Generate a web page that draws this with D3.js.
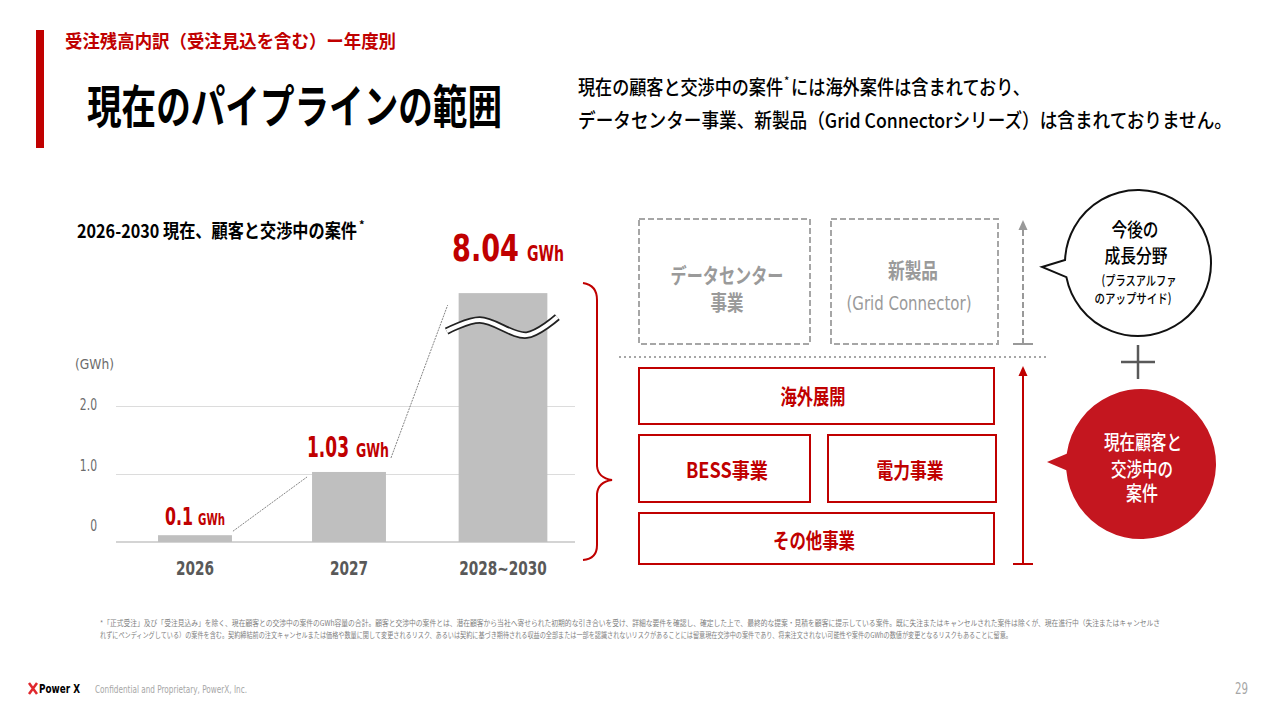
<!DOCTYPE html>
<html>
<head>
<meta charset="utf-8">
<script src="https://cdn.jsdelivr.net/npm/d3@7"></script>
<style>
  body { margin: 0; background: #fff; }
  svg { display: block; }
  text { font-family: "Noto Sans CJK JP", sans-serif; }
  .num, .num text { font-family: "Liberation Sans Narrow", "DejaVu Sans Condensed", Roboto, sans-serif; }
</style>
</head>
<body>
<svg width="1280" height="720"></svg>
<script>
  // chart data
  const categories = ["2026", "2027", "2028~2030"];
  const values = [0.1, 1.03, 8.04];
  const valueLabels = ["0.1", "1.03", "8.04"];
  const unit = "GWh";
  const yTicks = [0, 1, 2];
  const yTickLabels = ["0", "1.0", "2.0"];
  const breakAt = 3.66; // bars above this are drawn cut with a wave

  const RED = "#c00000",
    CRIMSON = "#c4161f",
    GREY = "#a6a6a6";

  var svg = d3.select("svg");

  // plain text helper, squeezed to the width seen on the slide
  function label(parent, str, x, y, o) {
    var t = parent
      .append("text")
      .attr("x", x)
      .attr("y", y)
      .attr("font-size", o.size)
      .attr("font-weight", o.weight || 400)
      .attr("fill", o.fill || "#000")
      .attr("text-anchor", o.anchor || "start")
      .text(str);
    if (o.cls) t.attr("class", o.cls);
    if (o.width) t.attr("textLength", o.width).attr("lengthAdjust", "spacingAndGlyphs");
    return t;
  }

  // ---- header ----
  svg.append("rect").attr("x", 36).attr("y", 30).attr("width", 8).attr("height", 118).attr("fill", RED);
  label(svg, "受注残高内訳（受注見込を含む）ー年度別", 65, 48, { size: 18, weight: 700, fill: RED, width: 331 });
  label(svg, "現在のパイプラインの範囲", 87, 123, { size: 46, weight: 700, width: 415 });

  label(svg, "現在の顧客と交渉中の案件", 578, 95, { size: 20, weight: 500, width: 205 });
  label(svg, "*", 784, 85, { size: 11, weight: 500 });
  label(svg, "には海外案件は含まれており、", 791, 95, { size: 20, weight: 500, width: 239 });
  label(svg, "データセンター事業、新製品（Grid Connectorシリーズ）は含まれておりません。", 578, 128, {
    size: 20, weight: 500, width: 654,
  });

  // ---- bar chart ----
  label(svg, "2026-2030 現在、顧客と交渉中の案件", 77, 238, { size: 19, weight: 700, width: 280 });
  label(svg, "*", 359, 229, { size: 11, weight: 700 });

  var x = d3.scaleBand().domain(categories).range([118, 580]).paddingInner(0.52).paddingOuter(0.26),
    y = d3.scaleLinear().domain([0, 2]).range([542, 406]),
    // the slide sets its tick labels a little above their gridlines
    yLab = d3.scaleLinear().domain([0, 2]).range([526, 405]);

  var grid = svg
    .append("g")
    .attr("transform", "translate(116,0)")
    .call(d3.axisLeft(y).tickValues(yTicks.slice(1)).tickSize(-459).tickFormat(""));
  grid.select(".domain").remove();
  grid.selectAll("line").attr("stroke", "#dcdcdc");

  svg.append("line")
    .attr("x1", 116).attr("x2", 575)
    .attr("y1", y(0)).attr("y2", y(0))
    .attr("stroke", "#d4d4d4").attr("stroke-width", 2);

  var yAxis = svg
    .append("g")
    .attr("class", "num")
    .attr("transform", "translate(100,0)")
    .call(d3.axisLeft(yLab).tickValues(yTicks).tickSize(0).tickFormat(function (d, i) { return yTickLabels[i]; }));
  yAxis.select(".domain").remove();
  yAxis.selectAll("text").attr("font-size", 15).attr("fill", "#6b6b6b")
    .attr("textLength", function () { return this.getComputedTextLength() * 0.8; })
    .attr("lengthAdjust", "spacingAndGlyphs");
  label(svg, "(GWh)", 75, 369, { size: 14, fill: "#6b6b6b", width: 39, cls: "num" });

  function barW(i) { return i == 2 ? x.bandwidth() * 1.2 : x.bandwidth(); }
  function barL(i) { return x(categories[i]) + x.bandwidth() / 2 - barW(i) / 2; }
  function barTop(i) { return y(Math.min(values[i], breakAt)); }

  svg.selectAll(".bar")
    .data(values)
    .enter()
    .append("rect")
    .attr("class", "bar")
    .attr("x", function (d, i) { return barL(i); })
    .attr("y", function (d, i) { return barTop(i); })
    .attr("width", function (d, i) { return barW(i); })
    .attr("height", function (d, i) { return y(0) - barTop(i); })
    .attr("fill", "#bfbfbf");

  var xAxis = svg
    .append("g")
    .attr("class", "num")
    .attr("transform", "translate(0," + y(0) + ")")
    .call(d3.axisBottom(x).tickSize(0).tickPadding(19));
  xAxis.select(".domain").remove();
  xAxis.selectAll("text").attr("font-size", 20).attr("font-weight", 700).attr("fill", "#595959")
    .attr("textLength", function () { return this.getComputedTextLength() * 0.76; })
    .attr("lengthAdjust", "spacingAndGlyphs");

  // value labels above bars: number then smaller unit
  var numSize = [25, 29, 38],
    unitSize = [15, 19, 21],
    numW = [28, 42, 67],
    unitW = [27, 33, 37],
    gapW = [5, 7, 8],
    labGap = [10, 15, 32],
    labShift = [0, -1, 5];
  values.forEach(function (v, i) {
    var total = numW[i] + gapW[i] + unitW[i],
      x0 = x(categories[i]) + x.bandwidth() / 2 + labShift[i] - total / 2,
      yb = barTop(i) - labGap[i];
    label(svg, valueLabels[i], x0, yb, { size: numSize[i], weight: 700, fill: RED, width: numW[i], cls: "num" });
    label(svg, unit, x0 + numW[i] + gapW[i], yb, { size: unitSize[i], weight: 700, fill: RED, width: unitW[i], cls: "num" });
  });

  // thin connectors between bars
  var conn = [
    [barL(0) + barW(0) + 1, barTop(0) - 4, barL(1) - 5, barTop(1) + 5],
    [barL(1) + barW(1) + 5, barTop(1) - 14, barL(2) - 11, barTop(2) + 12],
  ];
  svg.selectAll(".conn")
    .data(conn)
    .enter()
    .append("line")
    .attr("x1", function (d) { return d[0]; })
    .attr("y1", function (d) { return d[1]; })
    .attr("x2", function (d) { return d[2]; })
    .attr("y2", function (d) { return d[3]; })
    .attr("stroke", "#666")
    .attr("stroke-width", 0.8)
    .attr("stroke-dasharray", "2,1");

  // wave break on the tall bar
  var l2 = barL(2), r2 = barL(2) + barW(2), t2 = barTop(2);
  var wave = [[l2 - 12, t2 + 38], [l2 + 21, t2 + 27], [l2 + 68, t2 + 42], [r2 + 10, t2 + 24]];
  var waveLine = d3.line().curve(d3.curveCatmullRom);
  svg.append("path").attr("d", waveLine(wave)).attr("fill", "none").attr("stroke", "#222").attr("stroke-width", 7.5);
  svg.append("path").attr("d", waveLine(wave)).attr("fill", "none").attr("stroke", "#fff").attr("stroke-width", 4);

  // brace
  var br = d3.path();
  br.moveTo(583, 283);
  br.quadraticCurveTo(597, 285, 597, 300);
  br.lineTo(597, 466);
  br.quadraticCurveTo(598, 478, 612, 480);
  br.quadraticCurveTo(598, 482, 597, 494);
  br.lineTo(597, 545);
  br.quadraticCurveTo(597, 559, 583, 560);
  svg.append("path").attr("d", br.toString()).attr("fill", "none").attr("stroke", RED).attr("stroke-width", 2);

  // ---- business blocks ----
  var blocks = svg.append("g");
  [[639, 219, 171, 125], [831, 219, 167, 125]].forEach(function (b) {
    blocks.append("rect")
      .attr("x", b[0]).attr("y", b[1]).attr("width", b[2]).attr("height", b[3])
      .attr("fill", "none").attr("stroke", GREY).attr("stroke-width", 2).attr("stroke-dasharray", "6,3");
  });
  label(blocks, "データセンター", 727, 283, { size: 21, weight: 700, fill: "#9a9a9a", anchor: "middle", width: 113 });
  label(blocks, "事業", 727, 310, { size: 21, weight: 700, fill: "#9a9a9a", anchor: "middle", width: 33 });
  label(blocks, "新製品", 913, 278, { size: 21, weight: 700, fill: "#9a9a9a", anchor: "middle", width: 50 });
  label(blocks, "(Grid Connector)", 909, 310, { size: 19, fill: "#9a9a9a", anchor: "middle", width: 125, cls: "num" });

  blocks.append("line")
    .attr("x1", 619).attr("x2", 1047).attr("y1", 357).attr("y2", 357)
    .attr("stroke", GREY).attr("stroke-width", 2).attr("stroke-dasharray", "2,3");

  [[639, 368, 355, 56], [639, 435, 171, 67], [828, 435, 168, 67], [639, 513, 355, 51]].forEach(function (b) {
    blocks.append("rect")
      .attr("x", b[0]).attr("y", b[1]).attr("width", b[2]).attr("height", b[3])
      .attr("fill", "none").attr("stroke", RED).attr("stroke-width", 2);
  });
  label(blocks, "海外展開", 813, 404, { size: 21, weight: 700, fill: RED, anchor: "middle", width: 65 });
  label(blocks, "BESS事業", 727, 478, { size: 21, weight: 700, fill: RED, anchor: "middle", width: 82 });
  label(blocks, "電力事業", 910, 478, { size: 21, weight: 700, fill: RED, anchor: "middle", width: 67 });
  label(blocks, "その他事業", 814, 548, { size: 21, weight: 700, fill: RED, anchor: "middle", width: 82 });

  // vertical arrows
  function arrow(x0, yBottom, yTip, color, dashed) {
    var a = svg.append("g");
    a.append("line")
      .attr("x1", x0).attr("x2", x0).attr("y1", yBottom).attr("y2", yTip + 8)
      .attr("stroke", color).attr("stroke-width", 2).attr("stroke-dasharray", dashed ? "6,3" : null);
    a.append("path")
      .attr("d", "M" + x0 + "," + yTip + "L" + (x0 + 4.5) + "," + (yTip + 10) + "L" + (x0 - 4.5) + "," + (yTip + 10) + "Z")
      .attr("fill", color);
    a.append("line")
      .attr("x1", x0 - 10).attr("x2", x0 + 10).attr("y1", yBottom).attr("y2", yBottom)
      .attr("stroke", color).attr("stroke-width", 2);
  }
  arrow(1023, 344, 220, "#999", true);
  arrow(1023, 564, 366, RED, false);

  // ---- speech bubbles ----
  function bubble(cx, cy, r, tip, up, lo) {
    var p = d3.path();
    var a0 = Math.atan2(up[1] - cy, up[0] - cx),
      a1 = Math.atan2(lo[1] - cy, lo[0] - cx);
    p.moveTo(tip[0], tip[1]);
    p.lineTo(cx + r * Math.cos(a0), cy + r * Math.sin(a0));
    p.arc(cx, cy, r, a0, a1, false);
    p.closePath();
    return p.toString();
  }
  svg.append("path")
    .attr("d", bubble(1138, 263, 73, [1042, 267], [1065, 260], [1067, 277]))
    .attr("fill", "#fff").attr("stroke", "#111").attr("stroke-width", 2);
  label(svg, "今後の", 1135, 237, { size: 19, weight: 500, anchor: "middle", width: 47 });
  label(svg, "成長分野", 1136, 263, { size: 19, weight: 500, anchor: "middle", width: 63 });
  label(svg, "(プラスアルファ", 1139, 285, { size: 13, weight: 500, anchor: "middle", width: 75 });
  label(svg, "のアップサイド)", 1133, 303, { size: 13, weight: 500, anchor: "middle", width: 77 });

  svg.append("line").attr("x1", 1121).attr("x2", 1155).attr("y1", 362).attr("y2", 362).attr("stroke", "#595959").attr("stroke-width", 2.5);
  svg.append("line").attr("x1", 1138).attr("x2", 1138).attr("y1", 345).attr("y2", 379).attr("stroke", "#595959").attr("stroke-width", 2.5);

  svg.append("path")
    .attr("d", bubble(1141, 464, 75, [1047, 462], [1068, 454], [1070, 470]))
    .attr("fill", CRIMSON);
  label(svg, "現在顧客と", 1143, 450, { size: 20, weight: 500, fill: "#fff", anchor: "middle", width: 78 });
  label(svg, "交渉中の", 1142, 477, { size: 20, weight: 500, fill: "#fff", anchor: "middle", width: 62 });
  label(svg, "案件", 1142, 501, { size: 20, weight: 500, fill: "#fff", anchor: "middle", width: 32 });

  // ---- footnote & footer ----
  label(svg,
    "*「正式受注」及び「受注見込み」を除く、現在顧客との交渉中の案件のGWh容量の合計。顧客と交渉中の案件とは、潜在顧客から当社へ寄せられた初期的な引き合いを受け、詳細な要件を確認し、確定した上で、最終的な提案・見積を顧客に提示している案件。既に失注またはキャンセルされた案件は除くが、現在進行中（失注またはキャンセルさ",
    100, 626, { size: 7.5, fill: "#808080", width: 1060 });
  label(svg,
    "れずにペンディングしている）の案件を含む。契約締結前の注文キャンセルまたは価格や数量に関して変更されるリスク、あるいは契約に基づき期待される収益の全部または一部を認識されないリスクがあることには留意現在交渉中の案件であり、将来注文されない可能性や案件のGWhの数値が変更となるリスクもあることに留意。",
    100, 638, { size: 7.5, fill: "#808080", width: 912 });

  svg.append("path").attr("d", "M29,683L37,694M37,683L29,694").attr("stroke", "#e0282e").attr("stroke-width", 2.5);
  label(svg, "Power X", 39, 693, { size: 12, weight: 700, width: 41, cls: "num" });
  label(svg, "Confidential and Proprietary, PowerX, Inc.", 95, 693, { size: 10, fill: "#a6a6a6", width: 152, cls: "num" });
  label(svg, "29", 1248, 694, { size: 15, fill: "#a6a6a6", anchor: "end", width: 13, cls: "num" });
</script>
</body>
</html>
